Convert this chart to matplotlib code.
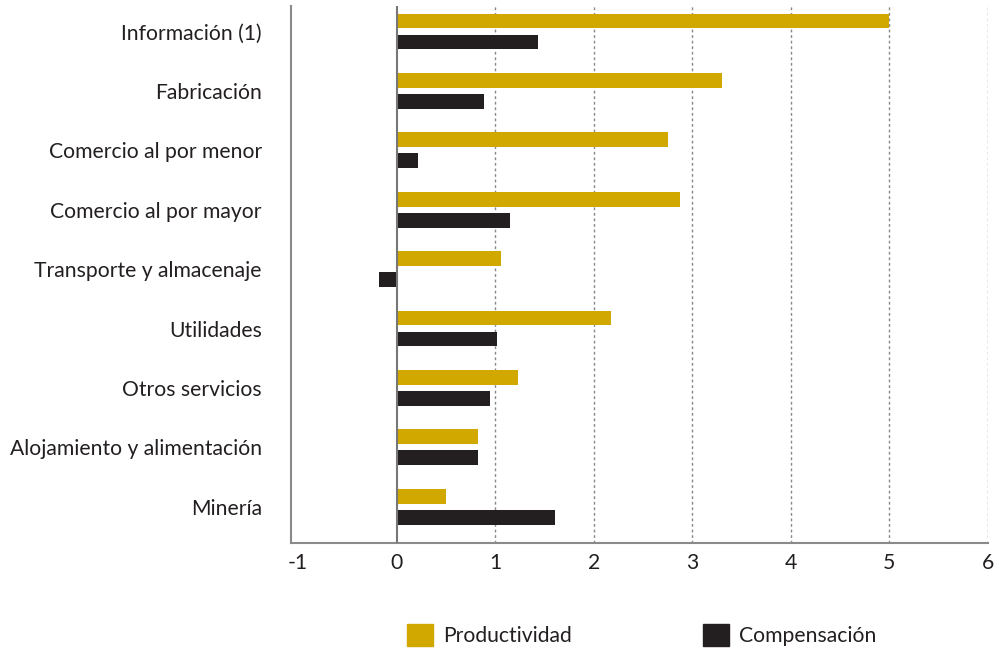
import matplotlib.pyplot as plt
from matplotlib.patches import Patch
import numpy as np

plt.rcParams['font.family'] = ['Lato', 'DejaVu Sans']

sectores = ["Información (1)", "Fabricación", "Comercio al por menor",
            "Comercio al por mayor", "Transporte y almacenaje", "Utilidades",
            "Otros servicios", "Alojamiento y alimentación", "Minería"]
productividad = [5.0, 3.30, 2.75, 2.88, 1.06, 2.18, 1.23, 0.83, 0.50]
compensacion = [1.43, 0.89, 0.22, 1.15, -0.18, 1.02, 0.95, 0.83, 1.61]
ticks_x = [-1, 0, 1, 2, 3, 4, 5, 6]

oro = '#D0A800'
negro = '#231F20'
fs = 15.2

fig = plt.figure(figsize=(9.95, 6.5), dpi=100)
ax = fig.add_axes([0.2925, 0.1646, 0.7005, 0.8262])

y = np.arange(len(sectores))
alto = 0.25
ax.barh(y - 0.177, productividad, height=alto, color=oro, zorder=3)
ax.barh(y + 0.177, compensacion, height=alto, color=negro, zorder=3)

ax.set_xlim(-1.07, 6)
ax.set_ylim(8.61, -0.43)
ax.set_yticks(y)
ax.set_yticklabels(sectores, fontsize=fs, color='#231F20')
ax.set_xticks(ticks_x)
ax.set_xticklabels([str(t) for t in ticks_x], fontsize=fs, color='#231F20')
ax.tick_params(axis='y', length=0, pad=21)
ax.tick_params(axis='x', length=0, pad=7)

for s in ['top', 'right']:
    ax.spines[s].set_visible(False)
ax.spines['left'].set_color('#8a8a8a')
ax.spines['left'].set_linewidth(1.5)
ax.spines['bottom'].set_color('#8a8a8a')
ax.spines['bottom'].set_linewidth(1.5)

# linea del cero y rejilla punteada
ax.axvline(0, color='#777777', lw=1.5, zorder=4)
for x in ticks_x[2:]:
    ax.axvline(x, color='#888888', lw=1, ls=(0, (2, 2)), zorder=1)

handles = [Patch(color=oro, label='Productividad'),
           Patch(color=negro, label='Compensación')]
fig.legend(handles=handles, loc='center', bbox_to_anchor=(0.645, 0.023),
           ncol=2, frameon=False, fontsize=fs, handlelength=1.22,
           handleheight=1.22, handletextpad=0.5, columnspacing=6.2,
           labelcolor='#231F20')

fig.savefig('out.png', dpi=100)
